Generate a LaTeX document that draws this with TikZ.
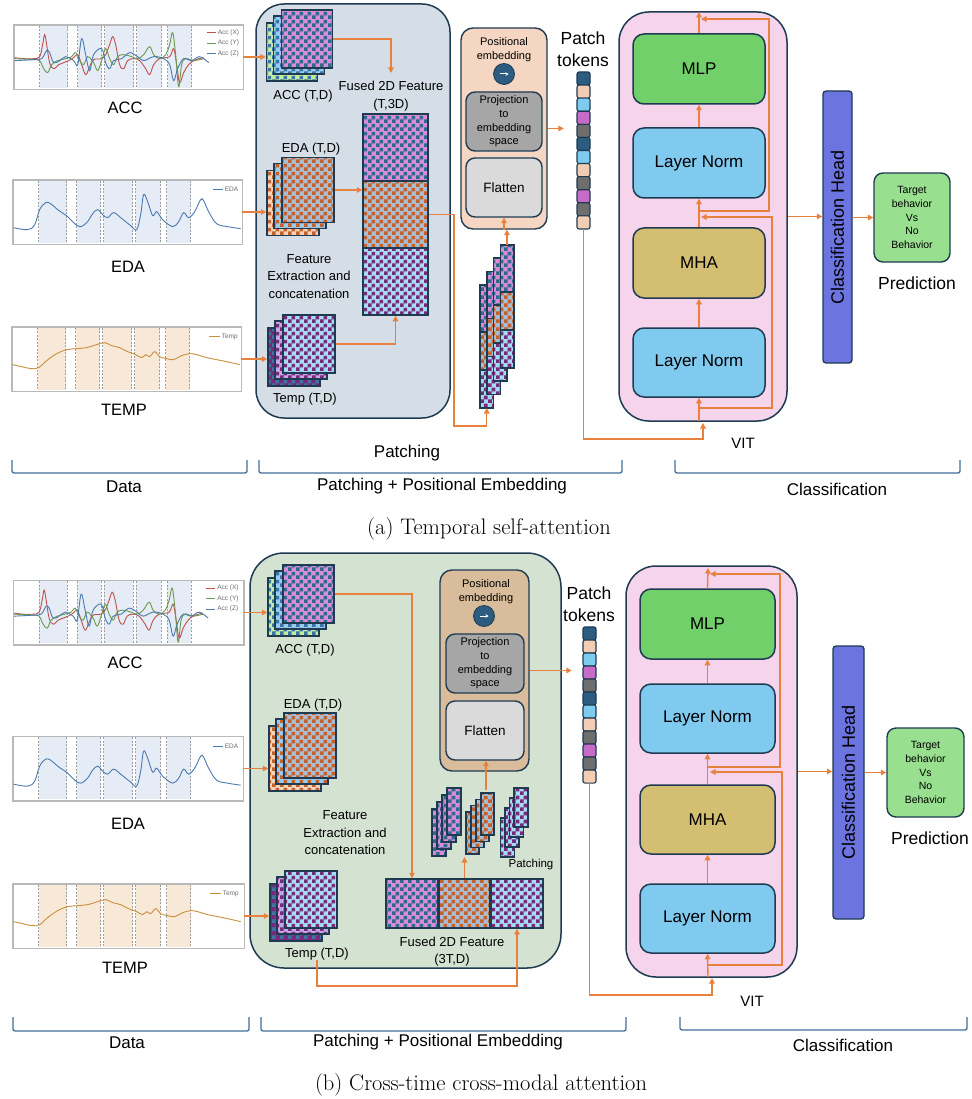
\documentclass[tikz,border=0pt]{standalone}
\usepackage{fontspec}
\newfontfamily\lsf{Liberation Sans}
\usetikzlibrary{arrows.meta,patterns}
\pgfdeclarepatternformonly{rscheck}{\pgfqpoint{0pt}{0pt}}{\pgfqpoint{8pt}{8pt}}{\pgfqpoint{8pt}{8pt}}{%
  \pgfpathrectangle{\pgfqpoint{0pt}{0pt}}{\pgfqpoint{4pt}{4pt}}%
  \pgfpathrectangle{\pgfqpoint{4pt}{4pt}}{\pgfqpoint{4pt}{4pt}}%
  \pgfusepath{fill}}
\definecolor{navy}{HTML}{1F3B52}
\definecolor{orng}{HTML}{E8813D}
\definecolor{boxA}{HTML}{D5DEE6}
\definecolor{boxB}{HTML}{D4E2D2}
\definecolor{posA}{HTML}{F4D6C2}
\definecolor{posB}{HTML}{D8BC9B}
\definecolor{proj}{HTML}{A6A6A6}
\definecolor{flat}{HTML}{DADADA}
\definecolor{vitbg}{HTML}{F5D4EC}
\definecolor{mlp}{HTML}{71D06A}
\definecolor{lnorm}{HTML}{80C9EF}
\definecolor{mha}{HTML}{D4BE72}
\definecolor{head}{HTML}{6C74E0}
\definecolor{pred}{HTML}{98E08F}
\definecolor{bracec}{HTML}{41709A}
\definecolor{ckPink}{HTML}{D98DD9}
\definecolor{ckTeal}{HTML}{2E6A8C}
\definecolor{ckLBlue}{HTML}{9BCBEE}
\definecolor{ckBlue}{HTML}{3B75A8}
\definecolor{ckLGreen}{HTML}{C2EC9E}
\definecolor{ckOrange}{HTML}{C3612C}
\definecolor{ckGrayBlue}{HTML}{A9BDD2}
\definecolor{ckPeach}{HTML}{F6D2B8}
\definecolor{ckPurple}{HTML}{792979}
\definecolor{ckSky}{HTML}{A5DCF3}
\definecolor{ckLav}{HTML}{C4A6E6}
\definecolor{tkD}{HTML}{2C5D80}
\definecolor{tkP}{HTML}{F2CDB4}
\definecolor{tkL}{HTML}{7ECBF0}
\definecolor{tkM}{HTML}{C66BC8}
\definecolor{tkG}{HTML}{6E6E6E}
\definecolor{bandB}{HTML}{E6ECF6}
\definecolor{bandT}{HTML}{F8E8D8}
\definecolor{sigR}{HTML}{C0504D}
\definecolor{sigG}{HTML}{6A9A4A}
\definecolor{sigB}{HTML}{4A7AB0}
\definecolor{sigT}{HTML}{C8903F}
\tikzset{
  arr/.style={draw=orng, line width=1.35pt, -{Triangle[length=5.5pt,width=5.5pt]}},
  chk/.style 2 args={draw=navy, line width=1.5pt, inner sep=0pt, preaction={fill=#2}, pattern=rscheck, pattern color=#1},
  plotframe/.style={draw=gray!55, line width=0.7pt, fill=white, inner sep=0pt},
  dline/.style={gray!75, line width=0.5pt, dash pattern=on 2pt off 1.5pt},
  sigline/.style={line width=0.9pt},
  tokcell/.style={draw=navy, line width=1.1pt, rounded corners=2pt, minimum width=13, minimum height=13.1, inner sep=0pt},
  innerbox/.style={draw=navy, line width=1.4pt, rounded corners=9pt, inner sep=0pt},
  vitblk/.style={draw=navy, line width=1.5pt, rounded corners=11pt, inner sep=0pt},
  icon/.style={circle, draw=navy, line width=0.8pt, fill=tkD, minimum size=21, inner sep=0pt},
  bracket/.style={draw=bracec, line width=1.3pt, rounded corners=2pt},
  tbig/.style={font={\lsf\fontsize{17}{22}\selectfont}, inner sep=0pt, align=center},
  tsig/.style={font={\lsf\fontsize{16.5}{20}\selectfont}, inner sep=0pt},
  tmid/.style={font={\lsf\fontsize{13}{17.5}\selectfont}, inner sep=0pt, align=center},
  tsmall/.style={font={\lsf\fontsize{11}{14.5}\selectfont}, inner sep=0pt, align=center},
  tpred/.style={font={\lsf\fontsize{10.5}{13.6}\selectfont}, inner sep=0pt, align=center},
  tleg/.style={font={\lsf\fontsize{6.5}{8}\selectfont}, text=gray!85!black, inner sep=0pt, anchor=west},
  tcap/.style={font={\rmfamily\fontsize{22.5}{26}\selectfont}, inner sep=0pt},
}
\newcommand{\rsBands}[1]{%
  \foreach \ba/\bb in {26/54,64/88,91/120,123/148,154/178}{%
    \fill[#1] (\ba,1) rectangle (\bb,63);
    \draw[dline] (\ba,1) -- (\ba,63);
    \draw[dline] (\bb,1) -- (\bb,63);
  }}
\newcommand{\rsAccPlot}{%
  \rsBands{bandB}
  \draw[sigline, sigR] plot[smooth, tension=0.6] coordinates {(1,33) (10,34) (20,34) (26,32) (29,20) (31,10) (33,20) (36,38) (40,44) (45,40) (50,38) (55,36) (60,33) (64,30) (68,40) (72,50) (76,42) (80,35) (88,34) (92,30) (96,20) (99,12) (102,20) (106,40) (110,44) (114,36) (120,34) (126,36) (132,44) (136,50) (140,40) (146,34) (156,32) (160,24) (163,40) (166,58) (170,48) (175,40) (180,36) (185,34) (190,33)};
  \draw[sigline, sigG] plot[smooth, tension=0.6] coordinates {(1,34) (20,35) (26,36) (30,44) (34,48) (38,40) (44,36) (52,34) (58,32) (62,28) (66,36) (70,40) (74,32) (80,38) (84,46) (88,36) (92,24) (96,34) (100,40) (104,32) (110,30) (118,32) (124,34) (130,30) (136,22) (140,30) (146,34) (152,30) (156,20) (159,8) (162,30) (165,62) (168,40) (172,34) (180,36) (190,34)};
  \draw[sigline, sigB] plot[smooth, tension=0.6] coordinates {(1,36) (20,35) (28,34) (33,26) (36,28) (40,38) (46,36) (52,32) (60,36) (64,40) (68,14) (72,30) (76,46) (80,30) (88,24) (92,38) (96,44) (100,36) (108,34) (116,28) (124,32) (130,36) (140,32) (150,34) (156,40) (160,56) (164,44) (170,34) (178,36) (186,32) (195,38)};
  \draw[sigline, sigR] (193,8) -- (202,8);
  \draw[sigline, sigG] (193,18.5) -- (202,18.5);
  \draw[sigline, sigB] (193,29) -- (202,29);
  \node[tleg] at (204,8) {Acc (X)};
  \node[tleg] at (204,18.5) {Acc (Y)};
  \node[tleg] at (204,29) {Acc (Z)};
}
\newcommand{\rsEdaPlot}{%
  \rsBands{bandB}
  \draw[sigline, sigB] plot[smooth, tension=0.6] coordinates {(1,48) (15,50) (22,45) (27,30) (33,23) (38,24) (45,30) (55,37) (62,44) (68,47) (75,42) (80,34) (85,30) (90,35) (95,38) (101,33) (108,38) (118,46) (124,50) (128,35) (131,15) (135,22) (140,36) (144,32) (150,40) (160,47) (166,42) (171,33) (176,38) (182,32) (188,20) (191,21) (196,32) (204,44) (215,47) (228,49)};
  \draw[sigline, sigB] (200,10) -- (210,10);
  \node[tleg] at (212,10) {EDA};
}
\newcommand{\rsTempPlot}{%
  \rsBands{bandT}
  \draw[sigline, sigT] plot[smooth, tension=0.6] coordinates {(1,38) (10,40) (20,42) (27,41) (35,34) (45,27) (55,23) (65,22) (75,21) (85,18) (93,16) (100,19) (108,21) (116,25) (124,28) (130,31) (134,28) (138,30) (143,25) (148,30) (155,32) (162,33) (170,29) (178,27) (185,28) (195,31) (205,33) (215,35) (228,38)};
  \draw[sigline, sigT] (197,10) -- (208,10);
  \node[tleg] at (210,10) {Temp};
}
\begin{document}
\begin{tikzpicture}[x=1pt,y=-1pt]
\useasboundingbox (0,0) rectangle (971,1099);
\fill[white] (0,0) rectangle (971,1099);

%%%%%%%%%%%%%%%%%%%% PANEL (a) %%%%%%%%%%%%%%%%%%%%
\node[plotframe, minimum width=229, minimum height=64] (pAacc) at (128.5,57) {};
\begin{scope}[shift={(pAacc.north west)}]\rsAccPlot\end{scope}
\draw[gray!55, line width=0.7pt] (pAacc.north west) rectangle (pAacc.south east);
\node[plotframe, minimum width=229, minimum height=64] (pAeda) at (127.5,212) {};
\begin{scope}[shift={(pAeda.north west)}]\rsEdaPlot\end{scope}
\draw[gray!55, line width=0.7pt] (pAeda.north west) rectangle (pAeda.south east);
\node[plotframe, minimum width=229, minimum height=64] (pAtmp) at (126.5,359) {};
\begin{scope}[shift={(pAtmp.north west)}]\rsTempPlot\end{scope}
\draw[gray!55, line width=0.7pt] (pAtmp.north west) rectangle (pAtmp.south east);
\node[tsig] (aAccName) at (125,108) {ACC};
\node[tsig] (aEdaName) at (128,267) {EDA};
\node[tsig] (aTmpName) at (124,410) {TEMP};

\node[draw=navy, line width=1.5pt, fill=boxA, rounded corners=28pt, minimum width=194, minimum height=414, inner sep=0pt] (aPatchBox) at (353,211) {};
\node[chk={ckBlue}{ckLGreen}, minimum width=51, minimum height=58] (aAccB2) at (292,52) {};
\node[chk={ckBlue}{ckLBlue}, minimum width=51, minimum height=58] (aAccB1) at (299,45) {};
\node[chk={ckTeal}{ckPink}, minimum width=51, minimum height=58] (aAccF) at (307,39) {};
\node[chk={ckOrange}{ckPeach}, minimum width=52, minimum height=65] (aEdaB2) at (293,203) {};
\node[chk={ckOrange}{ckLBlue}, minimum width=52, minimum height=65] (aEdaB1) at (300,196) {};
\node[chk={ckOrange}{ckGrayBlue}, minimum width=52, minimum height=65] (aEdaF) at (308,190) {};
\node[chk={ckBlue}{ckPurple}, minimum width=52, minimum height=58] (aTmpB2) at (294,357) {};
\node[chk={ckPurple}{ckLav}, minimum width=52, minimum height=58] (aTmpB1) at (301,350) {};
\node[chk={ckPurple}{ckSky}, minimum width=52, minimum height=58] (aTmpF) at (309,344) {};
\node[chk={ckTeal}{ckPink}, minimum width=65, minimum height=67] (aFusT) at (395.5,147.5) {};
\node[chk={ckOrange}{ckGrayBlue}, minimum width=65, minimum height=67] (aFusM) at (395.5,214.5) {};
\node[chk={ckPurple}{ckSky}, minimum width=65, minimum height=67] (aFusB) at (395.5,281.5) {};
\node[tmid] (aAccLbl) at (303,96) {ACC (T,D)};
\node[tmid] (aEdaLbl) at (311,149) {EDA (T,D)};
\node[tmid] (aTmpLbl) at (305,399) {Temp (T,D)};
\node[tmid] (aFeat) at (309,276.5) {Feature\\Extraction and\\concatenation};
\node[tmid] (aFusLbl) at (391,96) {Fused 2D Feature\\(T,3D)};
\coordinate (aFuseIn) at (391,73);
\foreach \i in {0,...,3}{
  \pgfmathsetmacro\px{480+6.8*\i}
  \pgfmathsetmacro\py{285-13.4*\i}
  \path[chk={ckTeal}{ckPink}] (\px,\py) rectangle ++(13.5,47);
  \path[chk={ckOrange}{ckGrayBlue}] (\px,\py+47) rectangle ++(13.5,38);
  \path[chk={ckPurple}{ckSky}] (\px,\py+85) rectangle ++(13.5,38);
}
\coordinate (aPatchIn) at (486.75,408);
\coordinate (aPatchTop) at (507,245);
\node[draw=navy, line width=1.4pt, fill=posA, rounded corners=12pt, minimum width=86, minimum height=201, inner sep=0pt] (aPos) at (504,128.5) {};
\node[tsmall] (aPosTxt) at (504,49.5) {Positional\\embedding};
\node[icon] (aIcon) at (504,74) {};
\draw[white, line width=1pt, -{Stealth[length=3pt,width=3.5pt]}] ([xshift=-4.5pt]aIcon.center) -- ([xshift=4.5pt]aIcon.center);
\node[innerbox, fill=proj, minimum width=76, minimum height=59, tsmall, font={\lsf\fontsize{11}{13.7}\selectfont}] (aProj) at (504,121.5) {Projection\\to\\embedding\\space};
\node[innerbox, fill=flat, minimum width=76, minimum height=59, font={\lsf\fontsize{13.5}{16}\selectfont}] (aFlat) at (504,187.5) {Flatten};
\node[tbig, font={\lsf\fontsize{17.5}{22}\selectfont}] (aTokLbl) at (583,49) {Patch\\tokens};
\node[minimum width=13, minimum height=157, inner sep=0pt] (aTok) at (583.5,150.5) {};
\foreach \c [count=\i] in {tkD,tkP,tkL,tkM,tkG,tkD,tkL,tkP,tkG,tkM,tkG,tkP}
  \node[tokcell, fill=\c] (aTk\i) at ({583.5},{72+13.08*(\i-0.5)}) {};
\node[draw=navy, line width=1.5pt, fill=vitbg, rounded corners=30pt, minimum width=168, minimum height=409, inner sep=0pt] (aVit) at (703,216.5) {};
\node[vitblk, fill=mlp, minimum width=132, minimum height=70, tbig] (aMlp) at (699,69) {MLP};
\node[vitblk, fill=lnorm, minimum width=132, minimum height=70, tbig] (aLn1) at (699,163) {Layer Norm};
\node[vitblk, fill=mha, minimum width=132, minimum height=70, tbig] (aMha) at (699,263) {MHA};
\node[vitblk, fill=lnorm, minimum width=132, minimum height=69, tbig] (aLn0) at (699,362.5) {Layer Norm};
\node[tbig, font={\lsf\fontsize{15}{18}\selectfont}] (aVitLbl) at (743,443) {VIT};
\coordinate (aVitBot) at (699,421);
\coordinate (aVitTop) at (699,12);
\coordinate (aT1) at (703,439);
\coordinate (aVitIn) at (703,423);
\coordinate (aRes1s) at (699,408);
\coordinate (aRes1c) at (772,217);
\coordinate (aRes1e) at (701,217);
\coordinate (aRes2s) at (699,211);
\coordinate (aRes2c) at (769,19);
\coordinate (aRes2e) at (701,19);
\node[draw=navy, line width=1.3pt, fill=head, rounded corners=3pt, minimum width=29, minimum height=272, inner sep=0pt] (aHead) at (837.5,227) {};
\node[tbig, rotate=90, font={\lsf\fontsize{18}{22}\selectfont}] (aHeadTxt) at (aHead.center) {Classification Head};
\node[innerbox, fill=pred, minimum width=76, minimum height=89, tpred] (aPred) at (912,217.5) {Target\\behavior\\Vs\\No\\Behavior};
\node[tbig, font={\lsf\fontsize{17.5}{22}\selectfont}] (aPredLbl) at (917,283) {Prediction};

\draw[arr] (pAacc.east) -- (pAacc.east -| aAccB2.west);
\draw[arr] (pAeda.east) -- (pAeda.east -| aEdaB2.west);
\draw[arr] (pAtmp.east) -- (pAtmp.east -| aTmpB2.west);
\draw[arr] (aAccF.east) -| (aFuseIn);
\draw[arr] (aEdaF.east) -- (aEdaF.east -| aFusM.west);
\draw[arr] (aTmpF.east) -| (aFusB.south);
\coordinate (aR1) at (454,426);
\coordinate (aR2) at (486.75,426);
\draw[arr] (aFusM.east) -| (aR1) -- (aR2) -- (aPatchIn);
\draw[arr] (aPatchTop) -- (aPatchTop |- aPos.south);
\draw[arr] (aPos.south) -- (aFlat.south);
\draw[arr, shorten >=13pt] (aPos.east) -- (aPos.east -| aTok.west);
\draw[arr] (aTok.south) |- (aT1) -- (aVitIn);
\draw[arr] (aVitBot) -- (aLn0.south);
\draw[arr] (aLn0.north) -- (aMha.south);
\draw[arr] (aMha.north) -- (aLn1.south);
\draw[arr] (aLn1.north) -- (aMlp.south);
\draw[arr] (aMlp.north) -- (aVitTop);
\draw[arr] (aRes1s) -| (aRes1c) -- (aRes1e);
\draw[arr] (aRes2s) -| (aRes2c) -- (aRes2e);
\draw[arr] (aVit.east) -- (aVit.east -| aHead.west);
\draw[arr] (aHead.east |- aPred.west) -- (aPred.west);

\node[tbig] (aPatching) at (407,453) {Patching};
\draw[bracket] (12,460) -- (12,473) -- (247,473) -- (247,460);
\draw[bracket] (259,460) -- (259,473) -- (622,473) -- (622,460);
\draw[bracket] (675,460) -- (675,473) -- (960,473) -- (960,460);
\node[tbig] (aDataLbl) at (124,487) {Data};
\node[tbig] (aPPELbl) at (442,486) {Patching + Positional Embedding};
\node[tbig] (aClsLbl) at (837,489) {Classification};
\node[tcap] (aCap) at (489,529) {(a) Temporal self-attention};

%%%%%%%%%%%%%%%%%%%% PANEL (b) %%%%%%%%%%%%%%%%%%%%
\node[plotframe, minimum width=230, minimum height=64] (pBacc) at (128.5,612.5) {};
\begin{scope}[shift={(pBacc.north west)}]\rsAccPlot\end{scope}
\draw[gray!55, line width=0.7pt] (pBacc.north west) rectangle (pBacc.south east);
\node[plotframe, minimum width=230, minimum height=64] (pBeda) at (128,768.5) {};
\begin{scope}[shift={(pBeda.north west)}]\rsEdaPlot\end{scope}
\draw[gray!55, line width=0.7pt] (pBeda.north west) rectangle (pBeda.south east);
\node[plotframe, minimum width=231, minimum height=64] (pBtmp) at (128.5,916) {};
\begin{scope}[shift={(pBtmp.north west)}]\rsTempPlot\end{scope}
\draw[gray!55, line width=0.7pt] (pBtmp.north west) rectangle (pBtmp.south east);
\node[tsig] (bAccName) at (125,663) {ACC};
\node[tsig] (bEdaName) at (128,824) {EDA};
\node[tsig] (bTmpName) at (125,968) {TEMP};

\node[draw=navy, line width=1.5pt, fill=boxB, rounded corners=34pt, minimum width=311, minimum height=415, inner sep=0pt] (bPatchBox) at (405.5,760.5) {};
\node[chk={ckBlue}{ckLGreen}, minimum width=51, minimum height=58] (bAccB2) at (293.5,607) {};
\node[chk={ckBlue}{ckLBlue}, minimum width=51, minimum height=58] (bAccB1) at (300.5,600) {};
\node[chk={ckTeal}{ckPink}, minimum width=51, minimum height=58] (bAccF) at (308.5,594) {};
\node[chk={ckOrange}{ckPeach}, minimum width=52, minimum height=65] (bEdaB2) at (295,758.5) {};
\node[chk={ckOrange}{ckLBlue}, minimum width=52, minimum height=65] (bEdaB1) at (302,751.5) {};
\node[chk={ckOrange}{ckGrayBlue}, minimum width=52, minimum height=65] (bEdaF) at (310,745.5) {};
\node[chk={ckBlue}{ckPurple}, minimum width=52, minimum height=57] (bTmpB2) at (296,912.5) {};
\node[chk={ckPurple}{ckLav}, minimum width=52, minimum height=57] (bTmpB1) at (303,905.5) {};
\node[chk={ckPurple}{ckSky}, minimum width=52, minimum height=57] (bTmpF) at (311,899.5) {};
\node[chk={ckTeal}{ckPink}, minimum width=52, minimum height=49] (bFus1) at (412,903.5) {};
\node[chk={ckOrange}{ckGrayBlue}, minimum width=51, minimum height=49] (bFus2) at (464.5,903.5) {};
\node[chk={ckPurple}{ckSky}, minimum width=52, minimum height=49] (bFus3) at (517,903.5) {};
\node[tmid] (bAccLbl) at (305,650) {ACC (T,D)};
\node[tmid] (bEdaLbl) at (313,705) {EDA (T,D)};
\node[tmid] (bTmpLbl) at (317,954) {Temp (T,D)};
\node[tmid] (bFeat) at (345,833) {Feature\\Extraction and\\concatenation};
\node[tmid] (bFusLbl) at (452,951.5) {Fused 2D Feature\\(3T,D)};
\foreach \i in {3,2,1,0}{
  \path[chk={ckTeal}{ckPink}] ({447-5*\i},{788+7*\i}) rectangle ++(14,47);
  \path[chk={ckOrange}{ckGrayBlue}] ({481-5*\i},{793+6.3*\i}) rectangle ++(13,42);
  \path[chk={ckPurple}{ckSky}] ({514-4.5*\i},{788+10*\i}) rectangle ++(14,39);
}
\node[tsmall, font={\lsf\fontsize{11.5}{14}\selectfont}] (bPatchingLbl) at (531,865) {Patching};
\coordinate (bPin) at (464.5,857);
\coordinate (bG2top) at (486,790);
\node[draw=navy, line width=1.4pt, fill=posB, rounded corners=12pt, minimum width=89, minimum height=201, inner sep=0pt] (bPos) at (484.5,670.5) {};
\node[tsmall] (bPosTxt) at (486,591.5) {Positional\\embedding};
\node[icon] (bIcon) at (484,616) {};
\draw[white, line width=1pt, -{Stealth[length=3pt,width=3.5pt]}] ([xshift=-4.5pt]bIcon.center) -- ([xshift=4.5pt]bIcon.center);
\node[innerbox, fill=proj, minimum width=78, minimum height=59, font={\lsf\fontsize{11}{13.7}\selectfont}, align=center] (bProj) at (485,663.5) {Projection\\to\\embedding\\space};
\node[innerbox, fill=flat, minimum width=78, minimum height=59, font={\lsf\fontsize{13.5}{16}\selectfont}] (bFlat) at (485,730.5) {Flatten};
\node[tbig, font={\lsf\fontsize{17.5}{22}\selectfont}] (bTokLbl) at (589,604) {Patch\\tokens};
\node[minimum width=13, minimum height=156, inner sep=0pt] (bTok) at (589.5,705) {};
\foreach \c [count=\i] in {tkD,tkP,tkL,tkM,tkG,tkD,tkL,tkP,tkG,tkM,tkG,tkP}
  \node[tokcell, fill=\c] (bTk\i) at ({589.5},{627+13*(\i-0.5)}) {};
\node[draw=navy, line width=1.5pt, fill=vitbg, rounded corners=30pt, minimum width=171, minimum height=411, inner sep=0pt] (bVit) at (711.5,771.5) {};
\node[vitblk, fill=mlp, minimum width=135, minimum height=70, tbig] (bMlp) at (707.5,624) {MLP};
\node[vitblk, fill=lnorm, minimum width=135, minimum height=69, tbig] (bLn1) at (707.5,718.5) {Layer Norm};
\node[vitblk, fill=mha, minimum width=135, minimum height=69, tbig] (bMha) at (707.5,819.5) {MHA};
\node[vitblk, fill=lnorm, minimum width=135, minimum height=69, tbig] (bLn0) at (707.5,918.5) {Layer Norm};
\node[tbig, font={\lsf\fontsize{15}{18}\selectfont}] (bVitLbl) at (752,1001) {VIT};
\coordinate (bVitBot) at (708,977);
\coordinate (bVitTop) at (708,568);
\coordinate (bT2) at (712,995);
\coordinate (bVitIn) at (712,978);
\coordinate (bRes1s) at (708,965);
\coordinate (bRes1c) at (782,772);
\coordinate (bRes1e) at (710,772);
\coordinate (bRes2s) at (708,767);
\coordinate (bRes2c) at (780,574);
\coordinate (bRes2e) at (710,574);
\node[draw=navy, line width=1.3pt, fill=head, rounded corners=3pt, minimum width=31, minimum height=273, inner sep=0pt] (bHead) at (848.5,782.5) {};
\node[tbig, rotate=90, font={\lsf\fontsize{18}{22}\selectfont}] (bHeadTxt) at (bHead.center) {Classification Head};
\node[innerbox, fill=pred, minimum width=77, minimum height=89, tpred] (bPred) at (925.5,772.5) {Target\\behavior\\Vs\\No\\Behavior};
\node[tbig, font={\lsf\fontsize{17.5}{22}\selectfont}] (bPredLbl) at (930,838) {Prediction};

\draw[arr] (pBacc.east) -- (pBacc.east -| bAccB2.west);
\draw[arr] (pBeda.east) -- (pBeda.east -| bEdaB2.west);
\draw[arr] (pBtmp.east) -- (pBtmp.east -| bTmpB2.west);
\draw[arr] (bAccF.east) -| (bFus1.north);
\coordinate (bT1) at (517,986);
\draw[arr] (bTmpLbl.south) |- (bT1) -- (bFus3.south);
\draw[arr] (bFus2.north) -- (bPin);
\draw[arr] (bG2top) -- (bG2top |- bFlat.south);
\draw[arr, shorten >=11pt] (bPos.east) -- (bPos.east -| bTok.west);
\draw[arr] (bTok.south) |- (bT2) -- (bVitIn);
\draw[arr] (bVitBot) -- (bLn0.south);
\draw[arr] (bLn0.north) -- (bMha.south);
\draw[arr] (bMha.north) -- (bLn1.south);
\draw[arr] (bLn1.north) -- (bMlp.south);
\draw[arr] (bMlp.north) -- (bVitTop);
\draw[arr] (bRes1s) -| (bRes1c) -- (bRes1e);
\draw[arr] (bRes2s) -| (bRes2c) -- (bRes2e);
\draw[arr] (bVit.east) -- (bVit.east -| bHead.west);
\draw[arr] (bHead.east |- bPred.west) -- (bPred.west);

\draw[bracket] (13,1017) -- (13,1031) -- (249,1031) -- (249,1017);
\draw[bracket] (261,1017) -- (261,1031) -- (626,1031) -- (626,1017);
\draw[bracket] (680,1017) -- (680,1030) -- (967,1030) -- (967,1017);
\node[tbig] (bDataLbl) at (127,1043) {Data};
\node[tbig] (bPPELbl) at (438,1042) {Patching + Positional Embedding};
\node[tbig] (bClsLbl) at (843,1045) {Classification};
\node[tcap] (bCap) at (481,1085) {(b) Cross-time cross-modal attention};
\end{tikzpicture}
\end{document}
